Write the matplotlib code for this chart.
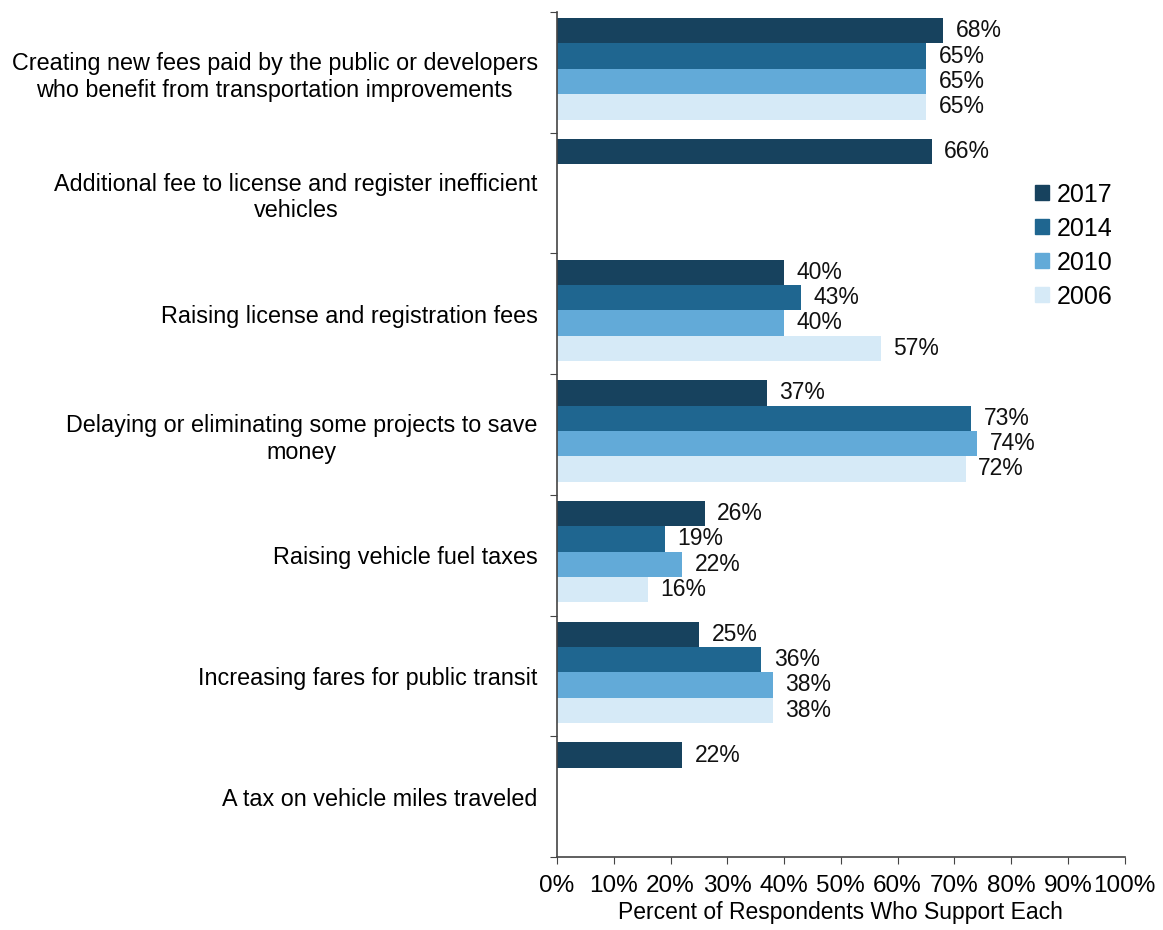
import numpy as np
import matplotlib.pyplot as plt

plt.rcParams['font.family'] = ['Liberation Sans', 'DejaVu Sans']

measures = [
    'Creating new fees paid by the public or developers\nwho benefit from transportation improvements',
    'Additional fee to license and register inefficient\nvehicles',
    'Raising license and registration fees',
    'Delaying or eliminating some projects to save\nmoney',
    'Raising vehicle fuel taxes',
    'Increasing fares for public transit',
    'A tax on vehicle miles traveled',
]
years = ['2017', '2014', '2010', '2006']
# None = not asked that year
support = {
    '2017': [68, 66, 40, 37, 26, 25, 22],
    '2014': [65, None, 43, 73, 19, 36, None],
    '2010': [65, None, 40, 74, 22, 38, None],
    '2006': [65, None, 57, 72, 16, 38, None],
}
colors = ['#17425e', '#1f6690', '#62aad8', '#d6eaf7']

fig = plt.figure(figsize=(11.63, 9.30), dpi=100)
ax = fig.add_axes([0.479, 0.0785, 0.488, 0.9085])

n = len(measures)
h = 0.21
offsets = [-0.345, -0.135, 0.075, 0.285]
for i, yr in enumerate(years):
    for j, v in enumerate(support[yr]):
        if v is None:
            continue
        y = j + 0.5 + offsets[i]
        ax.barh(y, v, height=h, color=colors[i], edgecolor='none')
        ax.text(v + 2.2, y, f'{v}%', va='center', ha='left', fontsize=16.5, color='#111111')

ax.set_xlim(0, 100)
ax.set_ylim(n, 0)
ax.set_xticks(np.arange(0, 101, 10))
ax.set_xticklabels([f'{t}%' for t in range(0, 101, 10)], fontsize=17.5)
ax.set_yticks(np.arange(0, n + 1), minor=False)
ax.set_yticklabels([])
ax.set_yticks(np.arange(n) + 0.5, minor=True)
ax.set_yticklabels(measures, minor=True, fontsize=16.8, multialignment='center')
ax.tick_params(axis='y', which='minor', length=0, pad=14)
ax.tick_params(axis='y', which='major', length=5, direction='out', color='#444444')
ax.tick_params(axis='x', length=5, direction='out', color='#444444', pad=8)
ax.set_xlabel('Percent of Respondents Who Support Each', fontsize=16.5, labelpad=3)

for s in ['top', 'right']:
    ax.spines[s].set_visible(False)
for s in ['left', 'bottom']:
    ax.spines[s].set_color('#444444')
    ax.spines[s].set_linewidth(1.2)

handles = [plt.Rectangle((0, 0), 1, 1, color=c) for c in colors]
ax.legend(handles, years, loc='upper left', bbox_to_anchor=(0.825, 0.81), frameon=False,
          fontsize=18, handlelength=0.55, handleheight=0.55, handletextpad=0.3,
          labelspacing=0.4, borderaxespad=0)

fig.savefig('out.png', dpi=100)
